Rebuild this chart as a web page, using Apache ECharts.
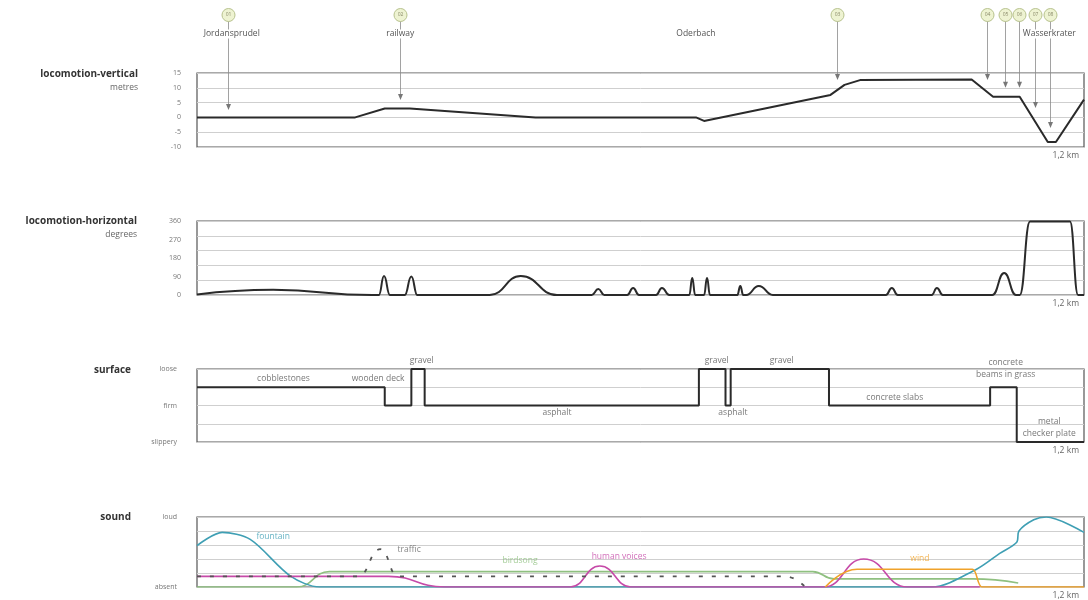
<!DOCTYPE html>
<html>
<head>
<meta charset="utf-8">
<script src="https://cdn.jsdelivr.net/npm/echarts@6/dist/echarts.min.js"></script>
<style>
  html, body { margin: 0; padding: 0; background: #fff; }
  #main { width: 1088px; height: 600px; }
</style>
</head>
<body>
<div id="main"></div>
<script>
// distance along the walk, in metres (0 .. 1200)
var vertDist = [0, 214, 254, 288, 458, 675, 686, 857, 876, 897, 1048, 1077, 1113, 1151, 1162, 1200];
var vertMetres = [0, 0, 3, 3, 0, 0, -1.2, 7.6, 11, 12.6, 12.8, 7, 7, -8.3, -8.3, 6];

var horizDist = [0, 103, 237, 246, 253, 261, 281, 290, 298, 396, 438, 487, 534, 543, 551, 582, 590, 598,
  621, 629, 639, 666, 670, 674, 686, 690, 694, 731, 735, 739, 743, 760, 779, 932, 940, 948,
  994, 1001, 1009, 1076, 1092, 1108, 1113, 1127, 1181, 1192, 1200];
var horizDegrees = [3, 25, 0, 0, 92, 0, 0, 90, 0, 0, 92, 0, 0, 29, 0, 0, 34, 0,
  0, 34, 0, 0, 83, 0, 0, 83, 0, 0, 44, 0, 0, 44, 0, 0, 34, 0,
  0, 34, 0, 0, 107, 0, 0, 357, 357, 0, 0];

// surface: 0 slippery .. 2 firm .. 4 loose
var surfaceStart = [0, 254, 290, 308, 679, 715, 722, 855, 1073, 1109, 1200];
var surfaceLevel = [3, 2, 4, 2, 4, 2, 4, 2, 3, 0, 0];
var surfaceNames = ['cobblestones', 'wooden deck', 'gravel', 'asphalt', 'gravel', 'asphalt', 'gravel',
  'concrete slabs', 'concrete\nbeams in grass', 'metal\nchecker plate'];
var surfaceNameDist = [117, 245, 304, 487, 703, 725, 791, 944, 1094, 1153];
var surfaceNameLevel = [3.45, 3.45, 4.44, 1.59, 4.44, 1.59, 4.44, 2.41, 4.0, 0.8];

// sound: 0 absent .. 5 loud
var fountainDist = [0, 34, 72, 126, 166, 994, 1054, 1086, 1109, 1112, 1132, 1149, 1200];
var fountainLevel = [2.95, 3.9, 3.4, 0.8, 0, 0, 1.25, 2.4, 3.2, 4.0, 4.8, 5.0, 3.9];
var trafficDist = [0, 218, 248, 272, 796, 823];
var trafficLevel = [0.76, 0.76, 2.7, 0.76, 0.76, 0];
var birdDist = [0, 135, 179, 833, 862, 1049, 1111];
var birdLevel = [0, 0, 1.1, 1.1, 0.58, 0.58, 0.28];
var voicesDist = [0, 259, 335, 505, 545, 587, 848, 902, 961, 1059];
var voicesLevel = [0.76, 0.76, 0, 0, 1.5, 0, 0, 2.0, 0, 0];
var windDist = [850, 893, 1049, 1062, 1200];
var windLevel = [0, 1.27, 1.27, 0, 0];
var soundNames = ['fountain', 'traffic', 'birdsong', 'human voices', 'wind'];
var soundNameDist = [103, 287, 437, 571, 978];
var soundNameLevel = [3.6, 2.7, 1.9, 2.2, 2.0];
var soundColors = ['#3f9fb4', '#666666', '#8fc080', '#c64aa8', '#f0a22a'];

// waypoints
var markerIds = ['01', '02', '03', '04', '05', '06', '07', '08'];
var markerDist = [42, 275, 866, 1069, 1093, 1112, 1134, 1154];
var markerTip = [2.5, 5.9, 12.6, 12.6, 10, 10, 3.2, -3.6];
var placeNames = ['Jordansprudel', 'railway', 'Oderbach', 'Wasserkrater'];
var placeDist = [47, 275, 675, 1153];

function zip(xs, ys) {
  return xs.map(function (x, i) { return [x, ys[i]]; });
}

var FONT = '"Open Sans", "DejaVu Sans", sans-serif';
var lineDark = '#2a2a2a';
var gridLine = '#cfcfcf';

var chart = echarts.init(document.getElementById('main'), null, { renderer: 'canvas' });

var grids = [
  { left: 197, right: 4, top: 73, height: 74 },
  { left: 197, right: 4, top: 221, height: 74 },
  { left: 197, right: 4, top: 369, height: 73 },
  { left: 197, right: 4, top: 517, height: 72 }
].map(function (g) {
  g.show = true;
  g.borderColor = '#555';
  g.borderWidth = 1.2;
  return g;
});

var xAxes = [0, 1, 2, 3].map(function (i) {
  return {
    gridIndex: i, type: 'value', min: 0, max: 1200, interval: 1200,
    axisLine: { show: false }, axisTick: { show: false }, splitLine: { show: false },
    axisLabel: {
      formatter: function (v) { return v === 1200 ? '1,2 km' : ''; },
      align: 'right', fontSize: 8.5, color: '#666', margin: 4, fontFamily: FONT,
      padding: [0, 5, 0, 0]
    }
  };
});

function yAxis(grid, min, max, interval, labels, margin, align) {
  return {
    gridIndex: grid, type: 'value', min: min, max: max, interval: interval, position: 'left',
    axisLine: { show: false }, axisTick: { show: false },
    splitLine: { show: true, lineStyle: { color: gridLine, width: 1 } },
    axisLabel: {
      show: true, fontSize: 7, color: '#777', fontFamily: FONT, margin: margin, align: align,
      formatter: labels
    }
  };
}

var yAxes = [
  yAxis(0, -10, 15, 5, null, 16, 'right'),
  yAxis(1, 0, 360, 72, function () { return ''; }, 16, 'right'),
  yAxis(1, 0, 360, 90, null, 16, 'right'),
  yAxis(2, 0, 4, 1, function (v) { return { 4: 'loose', 2: 'firm', 0: 'slippery' }[v] || ''; }, 20, 'right'),
  yAxis(3, 0, 5, 1, function (v) { return { 5: 'loud', 0: 'absent' }[v] || ''; }, 20, 'right')
];
yAxes[2].splitLine.show = false;

function blackLine(xi, yi, data, extra) {
  var s = {
    type: 'line', xAxisIndex: xi, yAxisIndex: yi, data: data, symbol: 'none',
    lineStyle: { color: lineDark, width: 2 }, silent: true
  };
  for (var k in extra) s[k] = extra[k];
  return s;
}

function soundLine(idx, data, extra) {
  var s = {
    type: 'line', xAxisIndex: 3, yAxisIndex: 4, data: data, symbol: 'none', silent: true,
    smooth: 0.5, smoothMonotone: 'x',
    lineStyle: { color: soundColors[idx], width: 1.6 }
  };
  for (var k in extra) s[k] = extra[k];
  return s;
}

function textSeries(xi, yi, names, dist, level, colors) {
  return {
    type: 'scatter', xAxisIndex: xi, yAxisIndex: yi, symbolSize: 0, silent: true, z: 5,
    clip: false,
    data: names.map(function (n, i) {
      return {
        value: [dist[i], level[i]], name: n,
        label: { color: colors ? colors[i] : '#555' }
      };
    }),
    label: {
      show: true, position: 'inside', fontSize: 8.5, fontFamily: FONT, lineHeight: 12,
      formatter: function (p) { return p.name; }
    }
  };
}

var option = {
  animation: false,
  backgroundColor: '#fff',
  grid: grids,
  xAxis: xAxes,
  yAxis: yAxes,
  graphic: [
    { type: 'text', x: 138, y: 74, style: { text: 'locomotion-vertical', align: 'right', verticalAlign: 'middle', font: 'bold 10px ' + FONT, fill: '#333' } },
    { type: 'text', x: 138, y: 88, style: { text: 'metres', align: 'right', verticalAlign: 'middle', font: '8.5px ' + FONT, fill: '#666' } },
    { type: 'text', x: 137, y: 221, style: { text: 'locomotion-horizontal', align: 'right', verticalAlign: 'middle', font: 'bold 10px ' + FONT, fill: '#333' } },
    { type: 'text', x: 137, y: 235, style: { text: 'degrees', align: 'right', verticalAlign: 'middle', font: '8.5px ' + FONT, fill: '#666' } },
    { type: 'text', x: 131, y: 370, style: { text: 'surface', align: 'right', verticalAlign: 'middle', font: 'bold 10px ' + FONT, fill: '#333' } },
    { type: 'text', x: 131, y: 517, style: { text: 'sound', align: 'right', verticalAlign: 'middle', font: 'bold 10px ' + FONT, fill: '#333' } }
  ],
  series: [
    blackLine(0, 0, zip(vertDist, vertMetres), {}),
    {
      // waypoint markers with arrows pointing into the elevation profile
      type: 'custom', xAxisIndex: 0, yAxisIndex: 0, clip: false, silent: true, z: 6,
      encode: { x: 0, y: 1 },
      data: zip(markerDist, markerTip),
      renderItem: function (params, api) {
        var p = api.coord([api.value(0), api.value(1)]);
        var x = Math.round(p[0]) + 0.5;
        var y = p[1];
        return {
          type: 'group',
          children: [
            { type: 'line', shape: { x1: x, y1: 21, x2: x, y2: y - 5 }, style: { stroke: '#8a8a8a', lineWidth: 0.8 } },
            { type: 'polygon', shape: { points: [[x - 2.5, y - 6], [x + 2.5, y - 6], [x, y]] }, style: { fill: '#777' } },
            { type: 'circle', shape: { cx: x, cy: 15, r: 6.5 }, style: { fill: '#eef3d2', stroke: '#b8c38e', lineWidth: 1 } },
            { type: 'text', style: { text: markerIds[params.dataIndex], x: x, y: 15, align: 'center', verticalAlign: 'middle', font: '5px ' + FONT, fill: '#8a8a6a' } }
          ]
        };
      }
    },
    {
      type: 'custom', xAxisIndex: 0, yAxisIndex: 0, clip: false, silent: true, z: 6,
      encode: { x: 0, y: 1 },
      data: placeDist.map(function (d) { return [d, 0]; }),
      renderItem: function (params, api) {
        var p = api.coord([api.value(0), 0]);
        return {
          type: 'text',
          style: { text: placeNames[params.dataIndex], x: p[0], y: 34, align: 'center', verticalAlign: 'middle', font: '8.5px ' + FONT, fill: '#555', backgroundColor: '#fff' }
        };
      }
    },
    blackLine(1, 1, zip(horizDist, horizDegrees), { smooth: 0.5, smoothMonotone: 'x' }),
    blackLine(2, 3, zip(surfaceStart, surfaceLevel), { step: 'end' }),
    textSeries(2, 3, surfaceNames, surfaceNameDist, surfaceNameLevel, null),
    soundLine(2, zip(birdDist, birdLevel), {}),
    soundLine(0, zip(fountainDist, fountainLevel), { smooth: 0.3, smoothMonotone: null }),
    soundLine(3, zip(voicesDist, voicesLevel), {}),
    soundLine(4, zip(windDist, windLevel), {}),
    soundLine(1, zip(trafficDist, trafficLevel), { lineStyle: { color: '#555', width: 1.8, type: [4, 9] } }),
    textSeries(3, 4, soundNames, soundNameDist, soundNameLevel, soundColors)
  ]
};

chart.setOption(option);
window.addEventListener('resize', function () { chart.resize(); });
</script>
</body>
</html>
